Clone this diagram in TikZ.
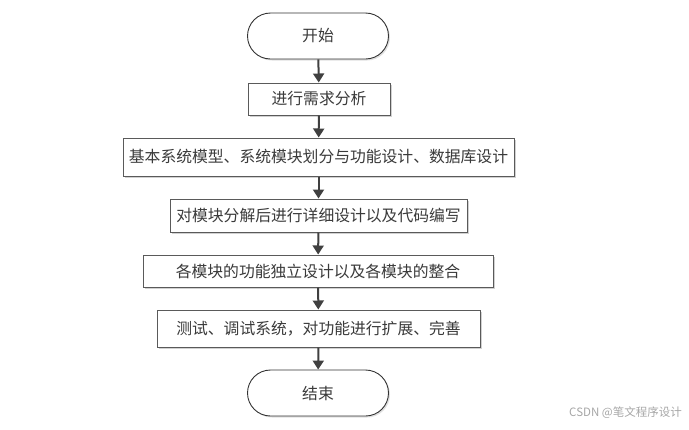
\documentclass[tikz,border=0pt]{standalone}
\usepackage{fontspec}
\setmainfont{Noto Sans CJK SC}
\usetikzlibrary{arrows.meta,shapes.misc,shadows}
\definecolor{boxline}{HTML}{5A5A5A}
\definecolor{arrowc}{HTML}{404040}
\definecolor{txt}{HTML}{3A3A3A}
\begin{document}
\begin{tikzpicture}[x=1pt,y=-1pt,
  every node/.style={font=\fontsize{15.8}{17}\selectfont, text=txt, inner sep=0pt},
  procbox/.style={draw=boxline, line width=1pt, fill=white, rectangle,
    drop shadow={shadow xshift=2pt, shadow yshift=-2pt, fill=black!18, opacity=1}},
  termbox/.style={draw=black!80, line width=0.9pt, fill=white, rounded rectangle,
    minimum width=141pt, minimum height=46pt,
    drop shadow={shadow xshift=1.5pt, shadow yshift=-1.5pt, fill=black!12, opacity=1}},
  flow/.style={draw=arrowc, line width=2pt, -{Triangle[length=9pt,width=11pt]}}
]
\useasboundingbox (0,0) rectangle (689,429);
\node[termbox] (start) at (318,36) {开始};
\node[procbox, minimum width=142pt, minimum height=32pt] (b1) at (319,99) {进行需求分析};
\node[procbox, minimum width=391pt, minimum height=38pt] (b2) at (318.5,157) {基本系统模型、系统模块划分与功能设计、数据库设计};
\node[procbox, minimum width=297pt, minimum height=33pt] (b3) at (318.5,215.5) {对模块分解后进行详细设计以及代码编写};
\node[procbox, minimum width=350pt, minimum height=32pt] (b4) at (318,271) {各模块的功能独立设计以及各模块的整合};
\node[procbox, minimum width=323pt, minimum height=37pt] (b5) at (318.5,328.5) {测试、调试系统，对功能进行扩展、完善};
\node[termbox] (end) at (318,393) {结束};
\draw[flow] (start) -- (b1);
\draw[flow] (b1) -- (b2);
\draw[flow] (b2) -- (b3);
\draw[flow] (b3) -- (b4);
\draw[flow] (b4) -- (b5);
\draw[flow] (b5) -- (end);
\node[font=\fontsize{11.5}{13}\selectfont, text=black!35, anchor=east] (wm) at (682,413) {CSDN @笔文程序设计};
\end{tikzpicture}
\end{document}
